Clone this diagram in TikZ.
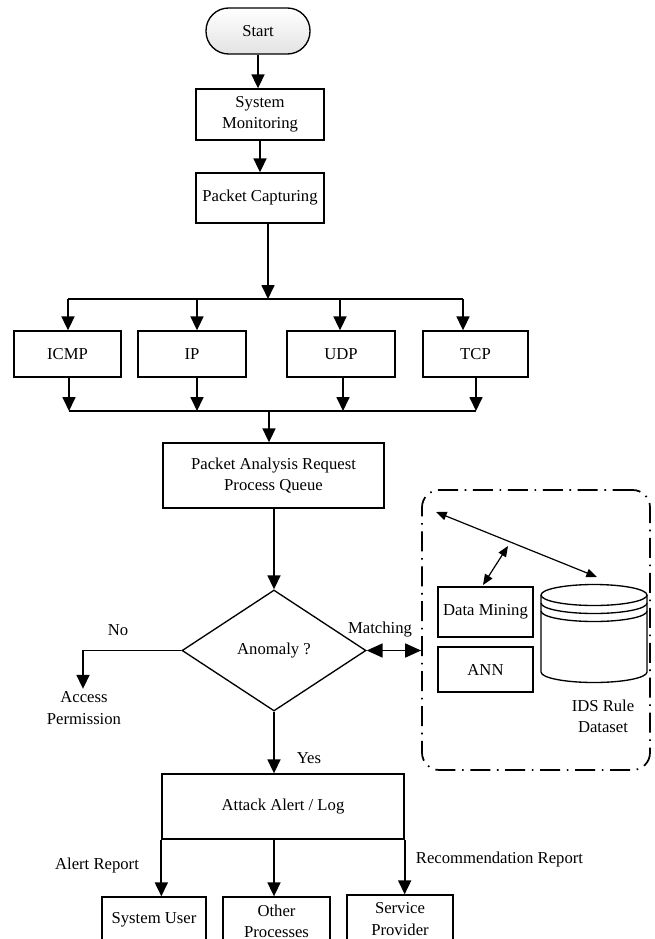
\documentclass[tikz,border=0pt]{standalone}
\usepackage{fontspec}
\setmainfont{Liberation Serif}
\usetikzlibrary{shapes.geometric,arrows.meta,calc}

\begin{document}
\begin{tikzpicture}[x=0.75pt,y=-0.75pt,
  font=\fontsize{12.5}{16}\selectfont,
  box/.style={draw,line width=1pt,align=center,inner sep=1pt},
  startbox/.style={draw,line width=1pt,rounded corners=17pt,
    top color=white,bottom color=gray!22,
    minimum width=78pt,minimum height=34.5pt},
  decision/.style={draw,diamond,line width=1pt,inner sep=0pt,
    minimum width=138pt,minimum height=90.75pt},
  groupbox/.style={draw,line width=1.3pt,rounded corners=13pt,
    dash pattern=on 15pt off 5pt on 1.2pt off 5pt,
    minimum width=171pt,minimum height=210pt},
  lbl/.style={align=center,inner sep=2pt},
  bus/.style={line width=1.3pt},
  arr/.style={line width=1.3pt,-{Triangle[width=9.75pt,length=10.5pt]}},
  dblarr/.style={line width=1.3pt,
    {Triangle[width=10.5pt,length=12pt]}-{Triangle[width=10.5pt,length=12pt]}},
  thinarr/.style={line width=0.9pt,
    {Triangle[width=6.5pt,length=8pt]}-{Triangle[width=6.5pt,length=8pt]}},
  cyl/.style={line width=1pt}
]
\path[use as bounding box,clip] (0,0) rectangle (654,939);
\fill[white] (0,0) rectangle (654,939);

% main flow
\node[startbox] (start) at (258,31) {Start};
\node[box,minimum width=96pt,minimum height=38.25pt] (sysmon) at (260,114.5) {System\\Monitoring};
\node[box,minimum width=96pt,minimum height=37.5pt] (pcap) at (260,198) {Packet Capturing};

\draw[arr] (start.south) -- (start.south |- sysmon.north);
\draw[arr] (sysmon) -- (pcap);

% protocol boxes
\node[box,minimum width=80.25pt,minimum height=34.5pt] (icmp) at (67.5,354) {ICMP};
\node[box,minimum width=81pt,minimum height=34.5pt] (ip) at (192,354) {IP};
\node[box,minimum width=81pt,minimum height=34.5pt] (udp) at (341,354) {UDP};
\node[box,minimum width=78.75pt,minimum height=34.5pt] (tcp) at (475.5,354) {TCP};

% split bus
\coordinate (tin) at (268,299);
\coordinate (t1) at (68,299);
\coordinate (t2) at (197,299);
\coordinate (t3) at (340,299);
\coordinate (t4) at (463,299);
\draw[arr] (pcap.south -| tin) -- (tin);
\draw[bus] (t1) -- (t4);
\draw[arr] (t1) -- (t1 |- icmp.north);
\draw[arr] (t2) -- (t2 |- ip.north);
\draw[arr] (t3) -- (t3 |- udp.north);
\draw[arr] (t4) -- (t4 |- tcp.north);

% merge bus
\coordinate (b1) at (69,411);
\coordinate (b2) at (197,411);
\coordinate (b3) at (343,411);
\coordinate (b4) at (476,411);
\coordinate (bout) at (269,411);
\draw[arr] (b1 |- icmp.south) -- (b1);
\draw[arr] (b2 |- ip.south) -- (b2);
\draw[arr] (b3 |- udp.south) -- (b3);
\draw[arr] (b4 |- tcp.south) -- (b4);
\draw[bus] (b1) -- (b4);

\node[box,minimum width=165.75pt,minimum height=48.75pt] (queue) at (273.5,475.5) {Packet Analysis Request\\Process Queue};
\draw[arr] (bout) -- (bout |- queue.north);

% decision
\node[decision] (anomaly) at (274,650.5) {Anomaly ?};
\draw[arr] (anomaly.north |- queue.south) -- (anomaly.north);

% "No" branch
\node[lbl] (nolbl) at (118,630) {No};
\node[lbl] (access) at (84,708) {Access\\Permission};
\coordinate (nocorner) at (83,650.5);
\draw[arr] (anomaly.west) -- (nocorner) -- (nocorner |- access.north);

% rule matching group
\node[groupbox] (rulebox) at (536,630) {};
\node[lbl] (matchlbl) at (380,630) {Matching};
\draw[dblarr] (anomaly.east) -- (anomaly.east -| rulebox.west);

\node[box,minimum width=71.25pt,minimum height=37.5pt] (dm) at (485.5,612) {Data Mining};
\node[box,minimum width=71.25pt,minimum height=33.75pt] (ann) at (485.5,669.5) {ANN};

% rule database cylinder
\coordinate (cyltop) at (594,595);
\draw[cyl] (cyltop) ellipse [x radius=39.75pt,y radius=7.875pt];
\draw[cyl] (541,603) arc [start angle=180,end angle=360,x radius=39.75pt,y radius=7.875pt];
\draw[cyl] (541,611) arc [start angle=180,end angle=360,x radius=39.75pt,y radius=7.875pt];
\draw[cyl] (541,595) -- (541,672) arc [start angle=180,end angle=360,x radius=39.75pt,y radius=7.875pt] -- (647,595);
\node[lbl] (ids) at (603,716) {IDS Rule\\Dataset};

\coordinate (gcorner) at (436,512);
\coordinate (dbtop) at (597,577);
\coordinate (gmid) at (508,546);
\coordinate (dmin) at (483,585);
\draw[thinarr] (gcorner) -- (dbtop);
\draw[thinarr] (gmid) -- (dmin);

% "Yes" branch
\node[lbl] (yeslbl) at (309,758) {Yes};
\node[box,minimum width=181.5pt,minimum height=48.75pt] (attack) at (283,806.5) {Attack Alert / Log};
\draw[arr] (anomaly.south) -- (anomaly.south |- attack.north);

% report targets
\node[box,minimum width=78pt,minimum height=34.5pt] (sysuser) at (154,920) {System User};
\node[box,minimum width=80.25pt,minimum height=36pt] (other) at (276.5,921) {Other\\Processes};
\node[box,minimum width=79.5pt,minimum height=36pt] (prov) at (400,919) {Service\\Provider};

\node[lbl] (alertlbl) at (97,865) {Alert Report};
\node[lbl,anchor=west] (reclbl) at (413,859) {Recommendation Report};

\draw[arr] (attack.south west) -- (attack.south west |- sysuser.north);
\draw[arr] (anomaly.south |- attack.south) -- (anomaly.south |- other.north);
\draw[arr] (attack.south east) -- (attack.south east |- prov.north);
\end{tikzpicture}
\end{document}
